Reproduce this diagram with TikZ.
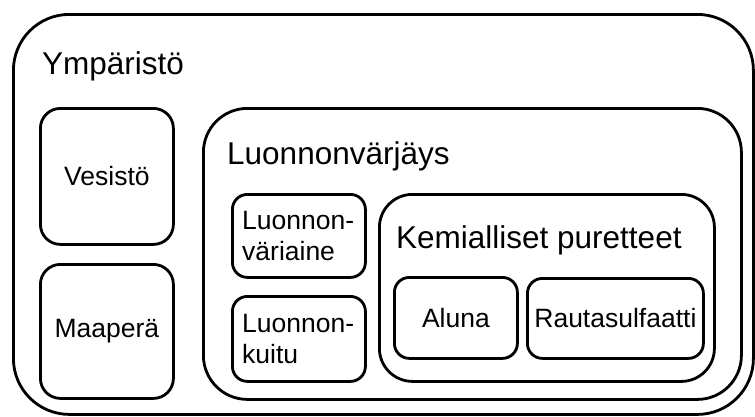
\documentclass[tikz,border=0pt]{standalone}
\usepackage{fontspec}
\setmainfont{Liberation Sans}
\begin{document}
\begin{tikzpicture}[x=1pt,y=-1pt,
  box/.style={draw=black, line width=2.8pt, rounded corners=#1, anchor=north west,
              inner sep=0pt, fill=none},
  box/.default=18pt,
  head/.style={anchor=base west, inner sep=0pt, font=\fontsize{31.5}{37}\selectfont},
  txt/.style={inner sep=0pt, font=\fontsize{26.5}{31.5}\selectfont},
]
\useasboundingbox (0,0) rectangle (755,416);

% outer frame
\node[box=56pt, minimum width=740pt, minimum height=400pt] (env) at (12,13) {};
\node[head] (envlabel) at (42,74) {Ympäristö};

% left column
\node[box=20pt, minimum width=133pt, minimum height=136pt] (water) at (39,107) {};
\node[txt] (waterlabel) at (water.center) {Vesistö};
\node[box=20pt, minimum width=133pt, minimum height=134pt] (soil) at (39,263) {};
\node[txt] (soillabel) at (soil.center) {Maaperä};

% natural dyeing
\node[box=44pt, minimum width=538pt, minimum height=291pt] (dye) at (202,107) {};
\node[head] (dyelabel) at (227,164) {Luonnonvärjäys};

\node[box=15pt, minimum width=133pt, minimum height=83pt] (dyestuff) at (231,193) {};
\node[txt, align=left, anchor=west] (dyestufflabel) at ([xshift=11pt]dyestuff.west) {Luonnon-\\väriaine};
\node[box=15pt, minimum width=133pt, minimum height=85pt] (fibre) at (231,295) {};
\node[txt, align=left, anchor=west] (fibrelabel) at ([xshift=11pt]fibre.west) {Luonnon-\\kuitu};

% mordants
\node[box=33pt, minimum width=335pt, minimum height=187pt] (mord) at (378,193) {};
\node[head] (mordlabel) at (396,248) {Kemialliset puretteet};
\node[box=15pt, minimum width=123pt, minimum height=81pt] (alum) at (393,276) {};
\node[txt] (alumlabel) at (alum.center) {Aluna};
\node[box=15pt, minimum width=176pt, minimum height=80pt] (iron) at (526,277) {};
\node[txt] (ironlabel) at (iron.center) {Rautasulfaatti};
\end{tikzpicture}
\end{document}
